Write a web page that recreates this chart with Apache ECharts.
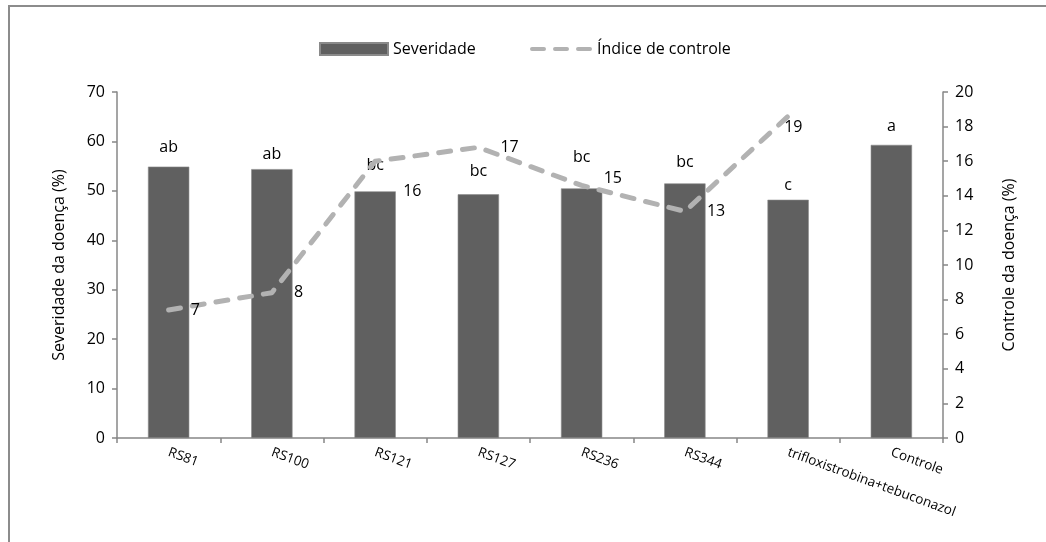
<!DOCTYPE html>
<html>
<head>
<meta charset="utf-8">
<script src="https://cdn.jsdelivr.net/npm/echarts@6/dist/echarts.min.js"></script>
<style>
  html, body { margin: 0; padding: 0; background: #fff; }
  #chart { width: 1046px; height: 542px; }
</style>
</head>
<body>
<div id="chart"></div>
<script>
// Treatments on the category axis
const categories = ['RS81', 'RS100', 'RS121', 'RS127', 'RS236', 'RS344', 'trifloxistrobina+tebuconazol', 'Controle'];
// Disease severity (%) per treatment
const severidade = [54.9, 54.4, 49.9, 49.3, 50.5, 51.5, 48.2, 59.3];
// Significance letters shown above the bars
const letras = ['ab', 'ab', 'bc', 'bc', 'bc', 'bc', 'c', 'a'];
// Control index (%) per treatment; none for the untreated control
const indiceControle = [7.4, 8.4, 16.0, 16.8, 14.6, 13.1, 18.6, null];
// Axis tick settings
const leftAxis = { min: 0, max: 70, interval: 10 };
const rightAxis = { min: 0, max: 20, interval: 2 };

// Label nudges (pixel offsets, styling only)
const lineLabelShift = { 2: [6, 30], 6: [-26, 11], 4: [0, -7] };
const letterLift = [-2, 2, -9, -6, -14, -4, 3, -1];

const FONT = 'Open Sans';
const axisGrey = '#878787';
const lineGrey = '#b2b2b2';
const barGrey = '#606060';

// Three rounded dashes used as the legend key of the dashed line
const dashIcon = 'path://M2,0H14A2,2 0 0 1 14,4H2A2,2 0 0 1 2,0Z' +
  'M25,0H37A2,2 0 0 1 37,4H25A2,2 0 0 1 25,0Z' +
  'M48,0H60A2,2 0 0 1 60,4H48A2,2 0 0 1 48,0Z';

const chart = echarts.init(document.getElementById('chart'), null, { renderer: 'canvas' });

const barData = severidade.map((v, i) => ({
  value: v,
  label: { offset: [0, letterLift[i]] }
}));

const lineData = indiceControle.map((v, i) => {
  const item = { value: v };
  if (lineLabelShift[i]) item.label = { offset: lineLabelShift[i] };
  return item;
});

const legendText = { fontFamily: FONT, fontSize: 16, color: '#000' };

chart.setOption({
  animation: false,
  backgroundColor: '#fff',
  textStyle: { fontFamily: FONT },
  graphic: [{
    type: 'rect',
    shape: { x: 9, y: 6, width: 1100, height: 600 },
    style: { fill: 'none', stroke: '#8c8c8c', lineWidth: 2 },
    silent: true, z: -1
  }],
  legend: [
    {
      left: 314,
      top: 36,
      itemWidth: 68,
      itemHeight: 12,
      itemGap: 6,
      textStyle: legendText,
      data: [{ name: 'Severidade', icon: 'rect' }]
    },
    {
      left: 525,
      top: 36,
      itemWidth: 62,
      itemHeight: 5,
      itemGap: 12,
      textStyle: legendText,
      data: [{ name: 'Índice de controle', icon: dashIcon, itemStyle: { color: lineGrey, borderWidth: 0, opacity: 1 } }]
    }
  ],
  grid: { left: 117, right: 103, top: 92, bottom: 104 },
  xAxis: {
    type: 'category',
    data: categories,
    boundaryGap: true,
    axisLine: { lineStyle: { color: axisGrey, width: 1.5 } },
    axisTick: { show: true, length: 5, lineStyle: { color: axisGrey, width: 1.5 } },
    axisLabel: {
      interval: 0,
      rotate: -20,
      margin: 14,
      fontFamily: FONT,
      fontSize: 13.5,
      color: '#000'
    }
  },
  yAxis: [
    {
      type: 'value',
      min: leftAxis.min, max: leftAxis.max, interval: leftAxis.interval,
      position: 'left',
      name: 'Severidade da doença (%)',
      nameLocation: 'middle',
      nameGap: 50,
      nameRotate: 90,
      nameTextStyle: { fontFamily: FONT, fontSize: 16, color: '#000' },
      axisLine: { show: true, lineStyle: { color: axisGrey, width: 1.5 } },
      axisTick: { show: true, length: 5, lineStyle: { color: axisGrey, width: 1.5 } },
      axisLabel: { fontFamily: FONT, fontSize: 16, color: '#000', margin: 12 },
      splitLine: { show: false }
    },
    {
      type: 'value',
      min: rightAxis.min, max: rightAxis.max, interval: rightAxis.interval,
      position: 'right',
      name: 'Controle da doença (%)',
      nameLocation: 'middle',
      nameGap: 58,
      nameRotate: 90,
      nameTextStyle: { fontFamily: FONT, fontSize: 16, color: '#000' },
      axisLine: { show: true, lineStyle: { color: axisGrey, width: 1.5 } },
      axisTick: { show: true, length: 5, lineStyle: { color: axisGrey, width: 1.5 } },
      axisLabel: { fontFamily: FONT, fontSize: 16, color: '#000', margin: 12 },
      splitLine: { show: false }
    }
  ],
  series: [
    {
      name: 'Severidade',
      type: 'bar',
      yAxisIndex: 0,
      data: barData,
      barWidth: '40%',
      itemStyle: { color: barGrey, borderColor: '#8a8a8a', borderWidth: 0.6 },
      label: {
        show: true,
        position: 'top',
        distance: 9,
        fontFamily: FONT,
        fontSize: 16,
        color: '#000',
        formatter: p => letras[p.dataIndex]
      },
      z: 2
    },
    {
      name: 'Índice de controle',
      type: 'line',
      yAxisIndex: 1,
      data: lineData,
      symbol: 'circle',
      symbolSize: 0.1,
      showSymbol: true,
      connectNulls: false,
      lineStyle: { color: lineGrey, width: 5, type: [12, 12], cap: 'round', join: 'round' },
      itemStyle: { color: lineGrey },
      label: {
        show: true,
        position: 'right',
        distance: 22,
        fontFamily: FONT,
        fontSize: 16,
        color: '#000',
        formatter: p => p.value == null ? '' : String(Math.round(p.value))
      },
      z: 3
    }
  ]
});
</script>
</body>
</html>
